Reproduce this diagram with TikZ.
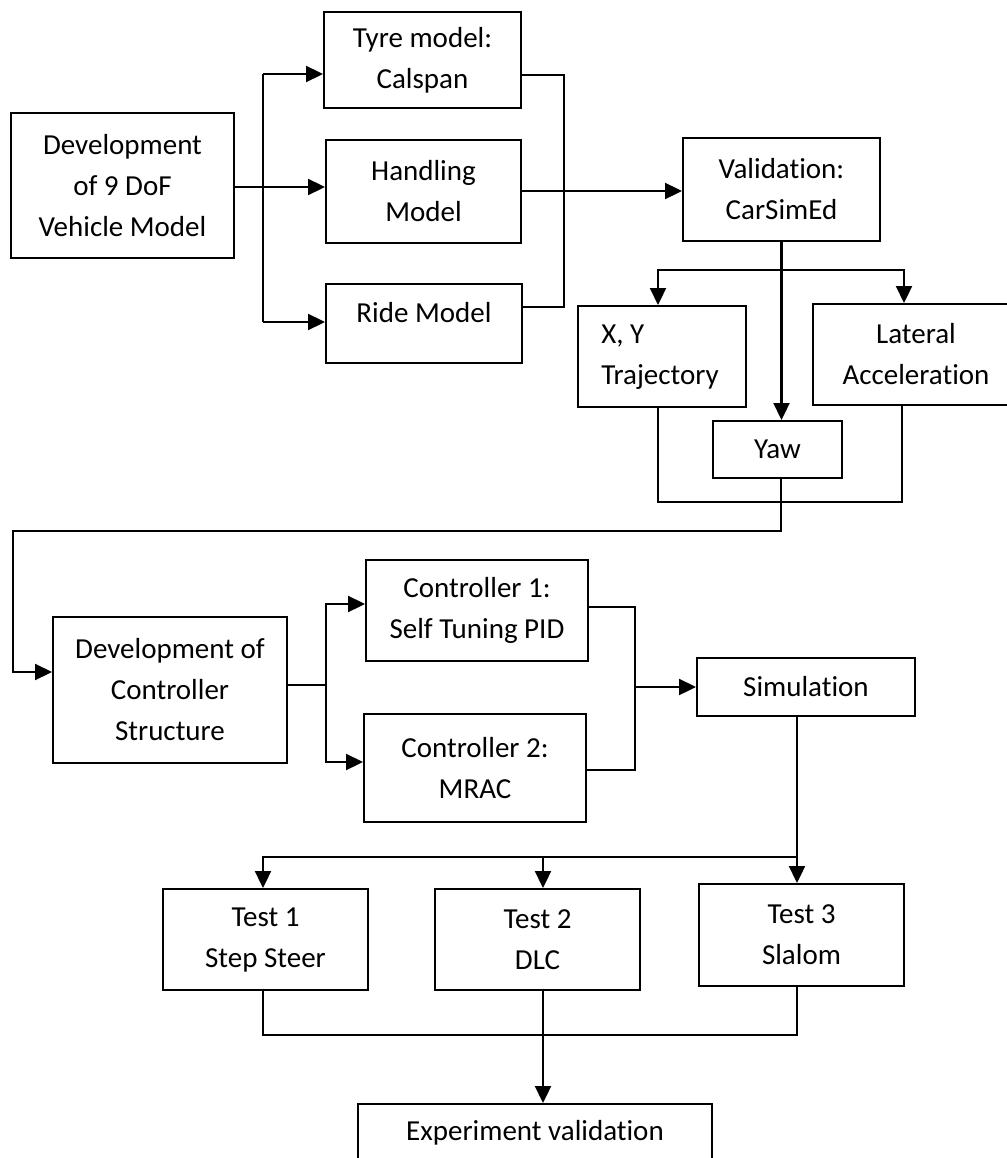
\documentclass[tikz,border=0pt]{standalone}
\usepackage{fontspec}
\setmainfont{Carlito}[RawFeature={-liga;-calt;-clig}]
\usetikzlibrary{arrows.meta}
\begin{document}
\begin{tikzpicture}[x=1pt,y=-1pt,
  box/.style={draw,line width=2pt,inner sep=0pt,align=center,
    font=\fontsize{29}{41}\selectfont},
  txt/.style={inner sep=0pt,align=center,font=\fontsize{29}{41}\selectfont},
  conn/.style={line width=2.3pt},
  arr/.style={line width=2.3pt,-{Triangle[length=17pt,width=16pt]}}]
\useasboundingbox (0,0) rectangle (1006,1158);
% boxes
\node[box,minimum width=223pt,minimum height=145pt] (dev) at (122.5,185.5) {Development\\of 9 DoF\\Vehicle Model};
\node[box,minimum width=197pt,minimum height=96pt] (tyre) at (422.5,60) {Tyre model:\\Calspan};
\node[box,minimum width=195pt,minimum height=103pt] (hand) at (423.5,191.5) {Handling\\Model};
\node[box,minimum width=196pt,minimum height=79pt] (ride) at (424,323.5) {};
\node[txt] (ridetxt) at (424,313) {Ride Model};
\node[box,minimum width=197pt,minimum height=103pt] (val) at (781.5,189.5) {Validation:\\CarSimEd};
\node[box,minimum width=168pt,minimum height=101pt] (xy) at (662,356.5) {};
\node[txt,align=left] (xytxt) at (660,357) {X, Y\\Trajectory};
\node[box,minimum width=197pt,minimum height=101pt] (lat) at (911.5,354.5) {};
\node[txt] (lattxt) at (916,354.5) {Lateral\\Acceleration};
\node[box,minimum width=129pt,minimum height=57pt] (yaw) at (777.5,449.5) {Yaw};
\node[box,minimum width=234pt,minimum height=146pt] (dev2) at (170,690) {Development of\\Controller\\Structure};
\node[box,minimum width=222pt,minimum height=101pt] (c1) at (477,610.5) {Controller 1:\\Self Tuning PID};
\node[box,minimum width=222pt,minimum height=108pt] (c2) at (475,768) {Controller 2:\\MRAC};
\node[box,minimum width=218pt,minimum height=58pt] (sim) at (806,687) {Simulation};
\node[box,minimum width=205pt,minimum height=101pt] (t1) at (265.5,939.5) {Test 1\\Step Steer};
\node[box,minimum width=205pt,minimum height=101pt] (t2) at (537.5,939.5) {Test 2\\DLC};
\node[box,minimum width=205pt,minimum height=102pt] (t3) at (801.5,935) {Test 3\\Slalom};
\node[box,minimum width=354pt,minimum height=58pt] (exp) at (535,1133) {Experiment validation};
% junction coordinates
\coordinate (j1) at (263,187);
\coordinate (j1top) at (263,74);
\coordinate (j1bot) at (263,322);
\coordinate (m1) at (564,191);
\coordinate (s1) at (781.5,270);
\coordinate (k1) at (781,502);
\coordinate (r1) at (13,531);
\coordinate (j2) at (326,685);
\coordinate (m2) at (635,687);
\coordinate (s2) at (797,857);
\coordinate (k2) at (543,1035);
% connectors: vehicle model
\draw[conn] (j1top) -- (j1bot);
\draw[arr] (dev.east |- j1) -- (hand.west |- j1);
\draw[arr] (j1top) -- (tyre.west |- j1top);
\draw[arr] (j1bot) -- (ride.west |- j1bot);
\draw[conn] ([yshift=-15pt]tyre.east) -| (m1) |- ([yshift=16.5pt]ride.east);
\draw[arr] (hand.east |- m1) -- (val.west |- m1);
% validation outputs
\draw[arr] (val.south) -- (val.south |- yaw.north);
\draw[arr] (s1) -| ([xshift=-4pt]xy.north);
\draw[arr] (s1) -| ([xshift=-7.5pt]lat.north);
\draw[conn] ([xshift=-4pt]xy.south) |- (k1) -| ([xshift=-9.5pt]lat.south);
\draw[arr] ([xshift=3.5pt]yaw.south) |- (r1) |- ([yshift=18pt]dev2.west);
% controllers
\draw[conn] (dev2.east |- j2) -- (j2);
\draw[arr] (j2) |- ([yshift=6.5pt]c1.west);
\draw[arr] (j2) |- ([yshift=6pt]c2.west);
\draw[conn] ([yshift=3.5pt]c1.east) -| (m2) |- ([yshift=-2pt]c2.east);
\draw[arr] (m2) -- (sim.west);
% tests
\draw[arr] ([xshift=-9pt]sim.south) -- ([xshift=-4.5pt]t3.north);
\draw[arr] (s2) -| ([xshift=-2.5pt]t1.north);
\draw[arr] (s2) -| ([xshift=5.5pt]t2.north);
\draw[conn] ([xshift=-2.5pt]t1.south) |- (k2) -| ([xshift=-4.5pt]t3.south);
\draw[arr] ([xshift=5.5pt]t2.south) -- ([xshift=8pt]exp.north);
\end{tikzpicture}
\end{document}
